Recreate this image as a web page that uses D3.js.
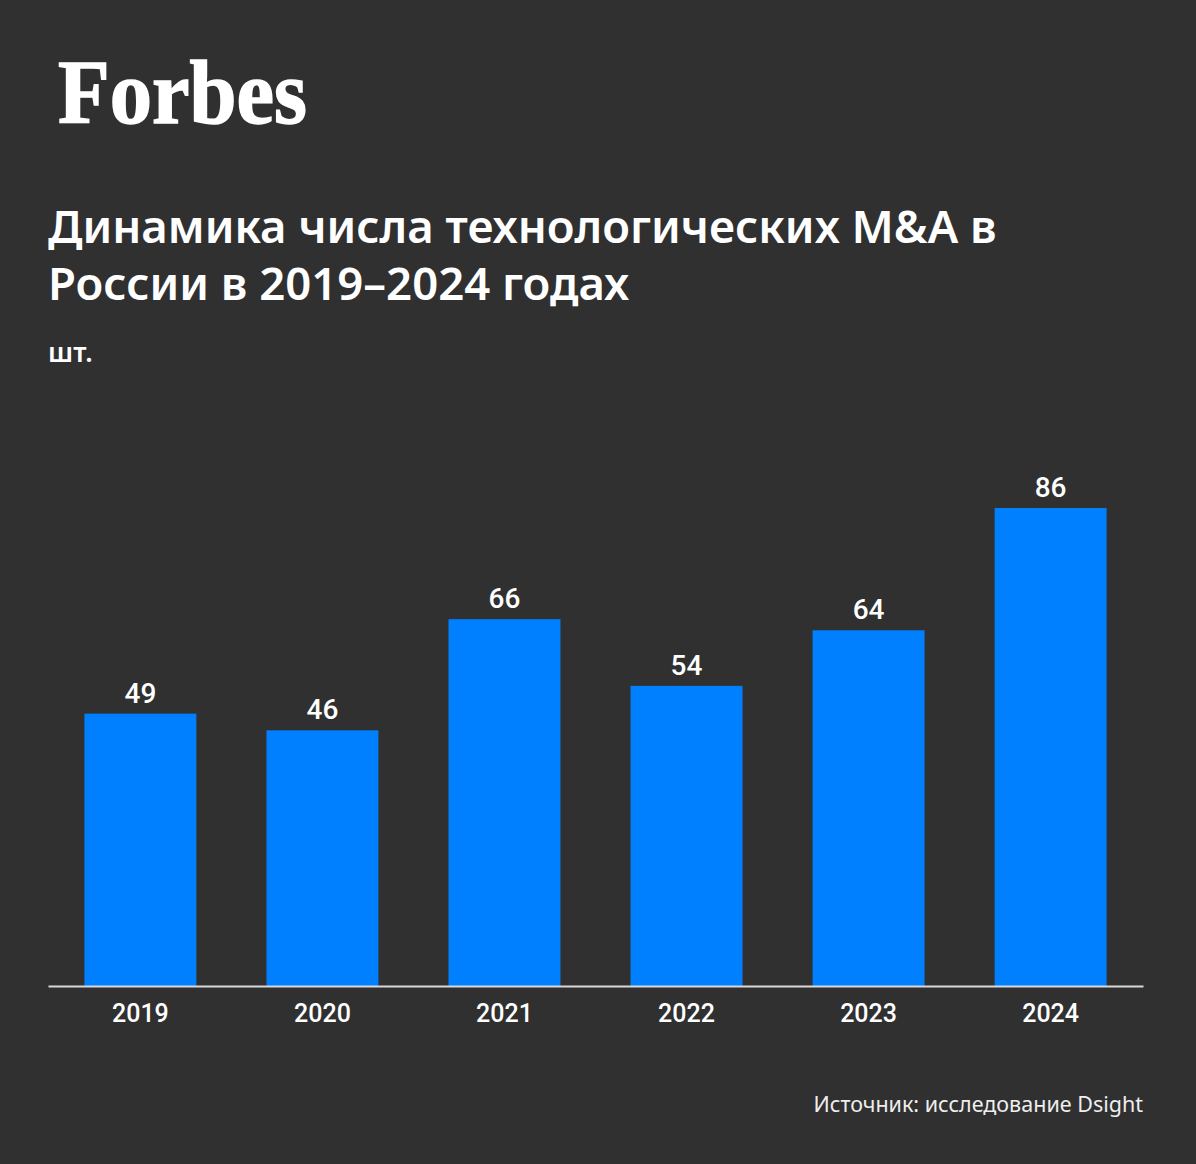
<!DOCTYPE html>
<html><head><meta charset="utf-8">
<script src="https://cdn.jsdelivr.net/npm/d3@7"></script>
<style>body{margin:0;background:#303030;}svg{display:block;}</style>
</head><body>
<script>
const years = ["2019","2020","2021","2022","2023","2024"];
const deals = [49, 46, 66, 54, 64, 86];
const titleLines = ["Динамика числа технологических M&A в", "России в 2019–2024 годах"];
const unitLabel = "шт.";
const sourceText = "Источник: исследование Dsight";

const W = 1196, H = 1164;
const svg = d3.select("body").append("svg").attr("width", W).attr("height", H);
svg.append("rect").attr("width", W).attr("height", H).attr("fill", "#303030");

svg.append("text").attr("x", 58).attr("y", 123).text("Forbes")
  .attr("font-family", "'Liberation Serif', 'DejaVu Serif', serif").attr("font-weight", "bold")
  .attr("font-size", 92).attr("fill", "#fff").attr("textLength", 249).attr("lengthAdjust", "spacingAndGlyphs")
  .attr("stroke", "#fff").attr("stroke-width", 1.5);

svg.selectAll("text.title").data(titleLines).enter().append("text").attr("class","title")
  .attr("x", 48).attr("y", (d,i) => 243 + i*57).text(d => d)
  .attr("font-family", "'Noto Sans', 'Open Sans', sans-serif").attr("font-weight", 600)
  .attr("font-size", 45.5).attr("fill", "#fff");

svg.append("text").attr("x", 48).attr("y", 362).text(unitLabel)
  .attr("font-family", "'Noto Sans', sans-serif").attr("font-weight", 600)
  .attr("font-size", 27).attr("fill", "#fff");

const baseY = 986;
const x = d3.scaleBand().domain(years).range([48, 1143]).paddingInner(0.385).paddingOuter(0.2);
const y = d3.scaleLinear().domain([0, 86]).range([baseY, 508]);

svg.selectAll("rect.bar").data(deals).enter().append("rect").attr("class","bar")
  .attr("x", (d,i) => x(years[i])).attr("width", x.bandwidth())
  .attr("y", d => y(d)).attr("height", d => baseY - y(d)).attr("fill", "#0080ff");

svg.selectAll("text.val").data(deals).enter().append("text").attr("class","val")
  .attr("x", (d,i) => x(years[i]) + x.bandwidth()/2).attr("y", d => y(d) - 11)
  .attr("text-anchor", "middle").text(d => d)
  .attr("font-family", "Roboto, sans-serif").attr("font-weight", 500)
  .attr("font-size", 28).attr("fill", "#fff");

const axis = d3.axisBottom(x).tickSize(0).tickPadding(18);
const g = svg.append("g").attr("transform", `translate(0,${baseY})`).call(axis);
g.select(".domain").attr("stroke", "#d8d8d8").attr("stroke-width", 2);
g.selectAll(".tick text").attr("font-family", "Roboto, sans-serif").attr("font-weight", 500)
  .attr("font-size", 25).attr("fill", "#fff").attr("dy", "0.71em");

svg.append("text").attr("x", 1143).attr("y", 1112).attr("text-anchor", "end").text(sourceText)
  .attr("font-family", "'Noto Sans', 'Open Sans', sans-serif").attr("font-weight", 400)
  .attr("font-size", 21.5).attr("fill", "#eee");
</script>
</body></html>
